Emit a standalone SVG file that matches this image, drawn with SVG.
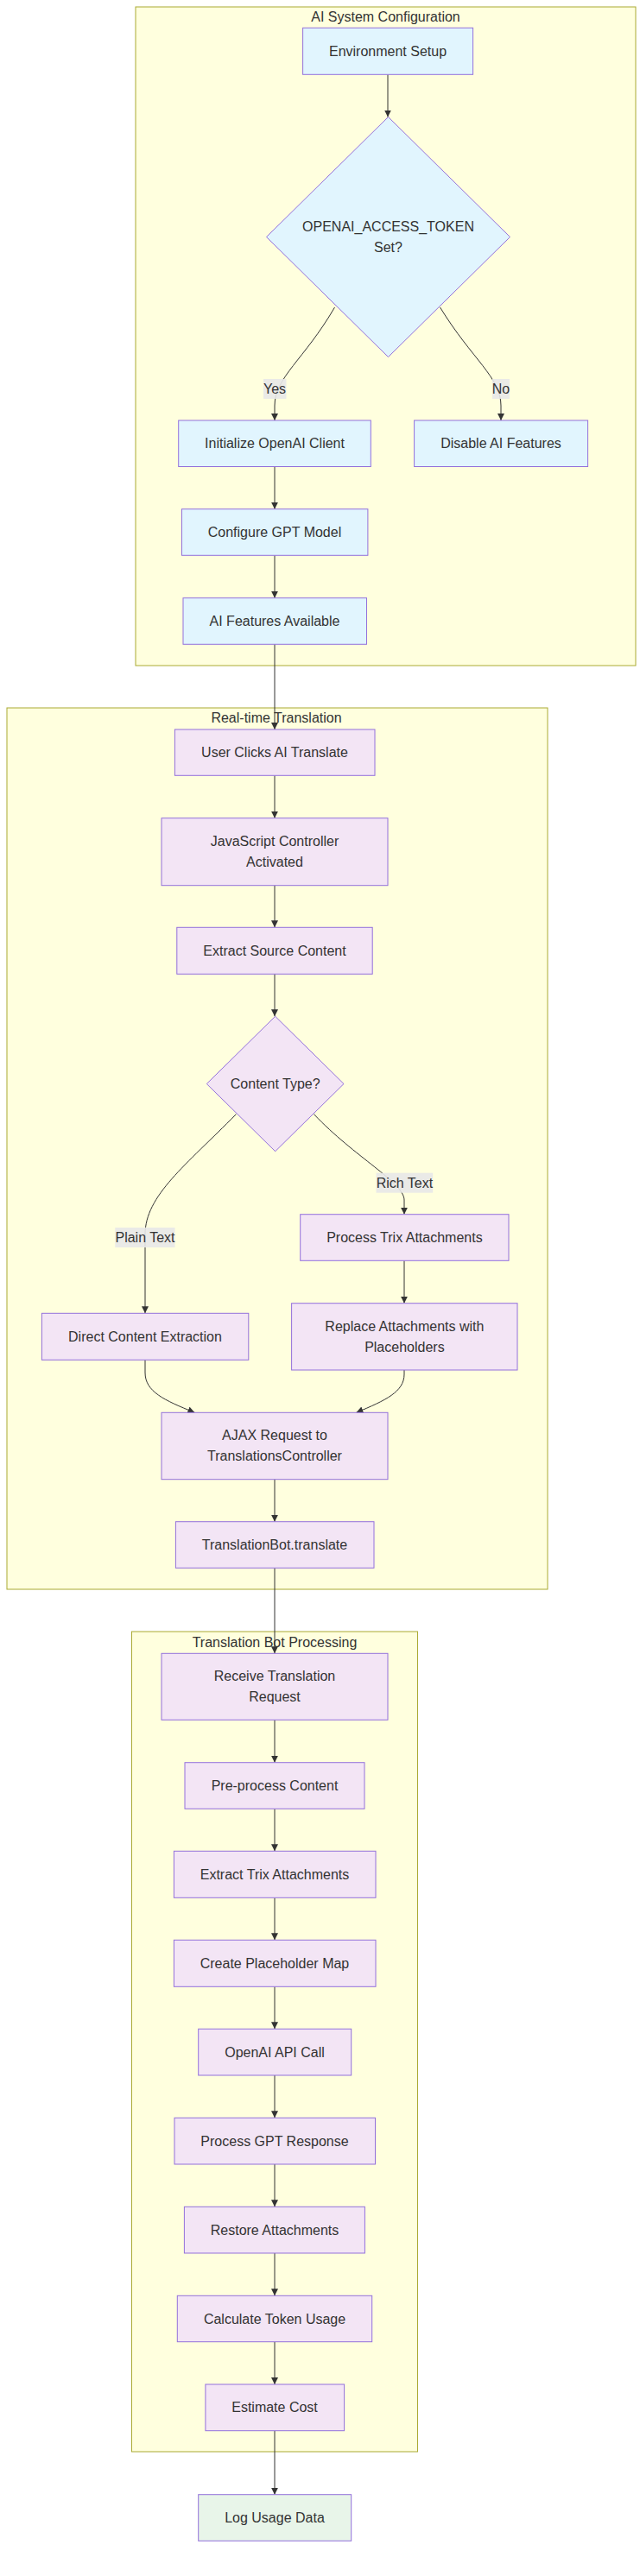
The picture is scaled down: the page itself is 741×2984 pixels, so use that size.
<svg xmlns="http://www.w3.org/2000/svg" width="741" height="2984" viewBox="0 0 741 2984">
<style>
.cluster{fill:#ffffde;stroke:#aaaa33;stroke-width:1}
.ctitle{font-family:"Liberation Sans",Arial,sans-serif;font-size:16px;fill:#333;text-anchor:middle;dominant-baseline:central}
.nb{fill:#e1f5fe;stroke:#9370db;stroke-width:1}
.np{fill:#f3e5f5;stroke:#9370db;stroke-width:1}
.ng{fill:#e8f5e9;stroke:#9370db;stroke-width:1}
.t{font-family:"Liberation Sans",Arial,sans-serif;font-size:16px;fill:#333;text-anchor:middle;dominant-baseline:central}
.e{fill:none;stroke:#333;stroke-width:1;marker-end:url(#arr)}
.lb{fill:#e8e8e8;opacity:0.9}
</style>
<defs>
<marker id="arr" viewBox="0 0 10 10" refX="10" refY="5" markerWidth="8" markerHeight="8" markerUnits="userSpaceOnUse" orient="auto">
<path d="M0,0 L10,5 L0,10 z" fill="#333"/>
</marker>
</defs>
<rect width="741" height="2984" fill="#ffffff"/>
<g id="cluster-config">
<rect class="cluster" x="157" y="8" width="579" height="763"/>
<text class="ctitle" x="446.5" y="19.5">AI System Configuration</text>
</g>
<g id="cluster-realtime">
<rect class="cluster" x="8" y="820" width="626" height="1021"/>
<text class="ctitle" x="320" y="831.3">Real-time Translation</text>
</g>
<g id="cluster-bot">
<rect class="cluster" x="152.5" y="1890" width="331" height="950"/>
<text class="ctitle" x="318" y="1902.3">Translation Bot Processing</text>
</g>
<g id="connectors">
<path class="e" d="M449,86.3 L449,135.5"/>
<path class="e" d="M387.5,356 C352,417 318,437 318,470 L318,487"/>
<path class="e" d="M509.5,356 C547,417 580,437 580,470 L580,487"/>
<path class="e" d="M318,540.5 L318,589.7"/>
<path class="e" d="M318,643.3 L318,692.7"/>
<path class="e" d="M318,746.3 L318,845"/>
<path class="e" d="M318,898.3 L318,947.7"/>
<path class="e" d="M318,1025.7 L318,1074.3"/>
<path class="e" d="M318,1128.3 L318,1177.3"/>
<path class="e" d="M273.4,1290.7 C215,1350 168,1385 168,1430 L168,1521.3"/>
<path class="e" d="M363.5,1290.7 C410,1340 468,1370 468,1390 L468,1406.7"/>
<path class="e" d="M468,1460.3 L468,1509.7"/>
<path class="e" d="M168,1575.3 L168,1590 C168,1612 190,1622 225.4,1636.3"/>
<path class="e" d="M468,1587 L468,1592 C468,1612 447,1622 412.5,1636.3"/>
<path class="e" d="M318,1713.7 L318,1762.7"/>
<path class="e" d="M318,1816.3 L318,1915.3"/>
<path class="e" d="M318,1992.3 L318,2041.7"/>
<path class="e" d="M318,2095.3 L318,2144.3"/>
<path class="e" d="M318,2198.3 L318,2247.3"/>
<path class="e" d="M318,2301.3 L318,2350.3"/>
<path class="e" d="M318,2404 L318,2453.3"/>
<path class="e" d="M318,2507 L318,2556.3"/>
<path class="e" d="M318,2610 L318,2659.3"/>
<path class="e" d="M318,2712.7 L318,2762"/>
<path class="e" d="M318,2815.7 L318,2889.7"/>
<g id="edge-labels">
<rect class="lb" x="305" y="439" width="26.5" height="23"/>
<text class="t" x="318" y="450.5">Yes</text>
<rect class="lb" x="570" y="439" width="20" height="23"/>
<text class="t" x="580" y="450.5">No</text>
<rect class="lb" x="133.3" y="1422" width="69.2" height="23"/>
<text class="t" x="168" y="1433.5">Plain Text</text>
<rect class="lb" x="435.5" y="1358.7" width="65.7" height="23"/>
<text class="t" x="468.4" y="1370.2">Rich Text</text>
</g>
</g>
<g id="env-setup"><rect class="nb" x="350.6" y="32.3" width="197" height="54"/><text class="t" x="449" y="59.3">Environment Setup</text></g>
<g id="token-check"><polygon class="nb" points="449.5,135.5 590.5,274.5 449.5,413.5 308.5,274.5"/><text class="t" x="449.5" y="262.7">OPENAI_ACCESS_TOKEN</text><text class="t" x="449.5" y="286.3">Set?</text></g>
<g id="init-client"><rect class="nb" x="206.7" y="487" width="222.6" height="53.5"/><text class="t" x="318" y="513.7">Initialize OpenAI Client</text></g>
<g id="disable-ai"><rect class="nb" x="479.6" y="487" width="201" height="53.5"/><text class="t" x="580" y="513.7">Disable AI Features</text></g>
<g id="configure-gpt"><rect class="nb" x="210.5" y="589.7" width="215.4" height="53.6"/><text class="t" x="318" y="616.5">Configure GPT Model</text></g>
<g id="ai-available"><rect class="nb" x="212" y="692.7" width="212.5" height="53.6"/><text class="t" x="318" y="719.5">AI Features Available</text></g>
<g id="user-clicks"><rect class="np" x="202.4" y="845" width="231.6" height="53.3"/><text class="t" x="318" y="871.7">User Clicks AI Translate</text></g>
<g id="js-controller"><rect class="np" x="187" y="947.7" width="262" height="78"/><text class="t" x="318" y="974.5">JavaScript Controller</text><text class="t" x="318" y="998">Activated</text></g>
<g id="extract-source"><rect class="np" x="204.8" y="1074.3" width="226.4" height="54"/><text class="t" x="318" y="1101.3">Extract Source Content</text></g>
<g id="content-type"><polygon class="np" points="318.7,1177.3 398,1255.5 318.7,1333.7 239.3,1255.5"/><text class="t" x="318.7" y="1255.5">Content Type?</text></g>
<g id="process-trix"><rect class="np" x="347.7" y="1406.7" width="241.3" height="53.6"/><text class="t" x="468.4" y="1433.5">Process Trix Attachments</text></g>
<g id="replace-attachments"><rect class="np" x="337.6" y="1509.7" width="261.4" height="77.3"/><text class="t" x="468.4" y="1536">Replace Attachments with</text><text class="t" x="468.4" y="1560">Placeholders</text></g>
<g id="direct-extraction"><rect class="np" x="48.4" y="1521.3" width="239.4" height="54"/><text class="t" x="168" y="1548.3">Direct Content Extraction</text></g>
<g id="ajax-request"><rect class="np" x="187" y="1636.3" width="262" height="77.4"/><text class="t" x="318" y="1662.8">AJAX Request to</text><text class="t" x="318" y="1686.6">TranslationsController</text></g>
<g id="bot-translate"><rect class="np" x="203.4" y="1762.7" width="229.6" height="53.6"/><text class="t" x="318" y="1789.5">TranslationBot.translate</text></g>
<g id="receive-request"><rect class="np" x="187" y="1915.3" width="262" height="77"/><text class="t" x="318" y="1941.8">Receive Translation</text><text class="t" x="318" y="1965.6">Request</text></g>
<g id="preprocess"><rect class="np" x="214" y="2041.7" width="208" height="53.6"/><text class="t" x="318" y="2068.5">Pre-process Content</text></g>
<g id="extract-trix"><rect class="np" x="201.4" y="2144.3" width="233.6" height="54"/><text class="t" x="318" y="2171.3">Extract Trix Attachments</text></g>
<g id="placeholder-map"><rect class="np" x="201.4" y="2247.3" width="233.6" height="54"/><text class="t" x="318" y="2274.3">Create Placeholder Map</text></g>
<g id="openai-call"><rect class="np" x="229.7" y="2350.3" width="177" height="53.7"/><text class="t" x="318" y="2377.2">OpenAI API Call</text></g>
<g id="process-gpt"><rect class="np" x="202" y="2453.3" width="232.5" height="53.7"/><text class="t" x="318" y="2480.2">Process GPT Response</text></g>
<g id="restore-attachments"><rect class="np" x="213.4" y="2556.3" width="209" height="53.7"/><text class="t" x="318" y="2583.2">Restore Attachments</text></g>
<g id="calc-tokens"><rect class="np" x="205.3" y="2659.3" width="225.4" height="53.4"/><text class="t" x="318" y="2686">Calculate Token Usage</text></g>
<g id="estimate-cost"><rect class="np" x="237.9" y="2762" width="160.7" height="53.7"/><text class="t" x="318" y="2788.8">Estimate Cost</text></g>
<g id="log-usage"><rect class="ng" x="229.7" y="2889.7" width="177" height="53.6"/><text class="t" x="318" y="2916.5">Log Usage Data</text></g>
</svg>
